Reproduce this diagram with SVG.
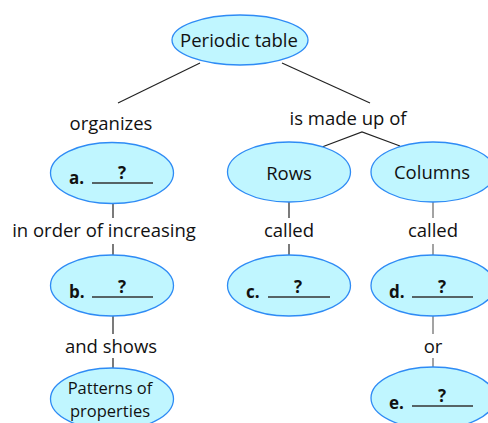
<svg xmlns="http://www.w3.org/2000/svg" width="488" height="423" viewBox="0 0 488 423">
<style>
.n{fill:#c0f6ff;stroke:#2e8bf5;stroke-width:1.3}
.t{font-family:"Open Sans","Noto Sans",sans-serif;font-size:18.5px;fill:#111;text-anchor:middle}
.s{font-size:16.5px}
.b{font-family:"Open Sans","Noto Sans",sans-serif;font-size:17px;font-weight:bold;fill:#111}
.u{stroke:#333;stroke-width:1.4}
.c line,.c polyline{stroke:#222;stroke-width:1.2;fill:none}
</style>
<rect width="488" height="423" fill="#fff"/>
<g class="c" id="connectors">
<line x1="200" y1="63" x2="118" y2="103"/>
<line x1="282" y1="63" x2="370" y2="103"/>
<polyline points="322,147 362,132 400,146"/>
<line x1="113" y1="204" x2="113" y2="218"/>
<line x1="113" y1="244" x2="113" y2="255"/>
<line x1="113" y1="316" x2="113" y2="334"/>
<line x1="113" y1="358" x2="113" y2="368"/>
<line x1="289" y1="202" x2="289" y2="218"/>
<line x1="289" y1="244" x2="289" y2="255"/>
<line x1="433" y1="202" x2="433" y2="218" style="stroke:#666"/>
<line x1="433" y1="244" x2="433" y2="255" style="stroke:#666"/>
<line x1="433" y1="316" x2="433" y2="334" style="stroke:#666"/>
<line x1="433" y1="358" x2="433" y2="368" style="stroke:#666"/>
</g>
<g id="labels">
<text class="t" x="111" y="130">organizes</text>
<text class="t" x="348" y="125">is made up of</text>
<text class="t" x="104" y="237">in order of increasing</text>
<text class="t" x="289" y="237">called</text>
<text class="t" x="433" y="237">called</text>
<text class="t" x="111" y="353">and shows</text>
<text class="t" x="433" y="353">or</text>
</g>
<g id="periodic">
<ellipse class="n" cx="240" cy="40" rx="68" ry="25"/>
<text class="t" x="239" y="47">Periodic table</text>
</g>
<g id="a">
<ellipse class="n" cx="112" cy="173" rx="61.5" ry="30.5"/>
<text class="b" x="69" y="184">a.</text>
<line class="u" x1="92" y1="183" x2="153" y2="183"/>
<text class="b" x="122" y="179" text-anchor="middle">?</text>
</g>
<g id="b">
<ellipse class="n" cx="112" cy="285.5" rx="61.5" ry="30.5"/>
<text class="b" x="69" y="298">b.</text>
<line class="u" x1="92" y1="297" x2="153" y2="297"/>
<text class="b" x="122" y="293" text-anchor="middle">?</text>
</g>
<g id="patterns">
<ellipse class="n" cx="112" cy="399" rx="61.5" ry="31"/>
<text class="t s" x="110" y="394">Patterns of</text>
<text class="t s" x="110" y="417">properties</text>
</g>
<g id="rows">
<ellipse class="n" cx="289" cy="172" rx="61.5" ry="30"/>
<text class="t" x="289" y="180">Rows</text>
</g>
<g id="columns">
<ellipse class="n" cx="433" cy="172" rx="62" ry="30"/>
<text class="t" x="432" y="179">Columns</text>
</g>
<g id="c">
<ellipse class="n" cx="289" cy="285.5" rx="61.5" ry="30.5"/>
<text class="b" x="246" y="298">c.</text>
<line class="u" x1="268" y1="297" x2="330" y2="297"/>
<text class="b" x="298" y="293" text-anchor="middle">?</text>
</g>
<g id="d">
<ellipse class="n" cx="433" cy="285.5" rx="62" ry="30.5"/>
<text class="b" x="389" y="298">d.</text>
<line class="u" x1="412" y1="297" x2="473" y2="297"/>
<text class="b" x="442" y="293" text-anchor="middle">?</text>
</g>
<g id="e">
<ellipse class="n" cx="433" cy="398" rx="62" ry="31"/>
<text class="b" x="389" y="409">e.</text>
<line class="u" x1="412" y1="406" x2="473" y2="406"/>
<text class="b" x="442" y="402" text-anchor="middle">?</text>
</g>
</svg>
